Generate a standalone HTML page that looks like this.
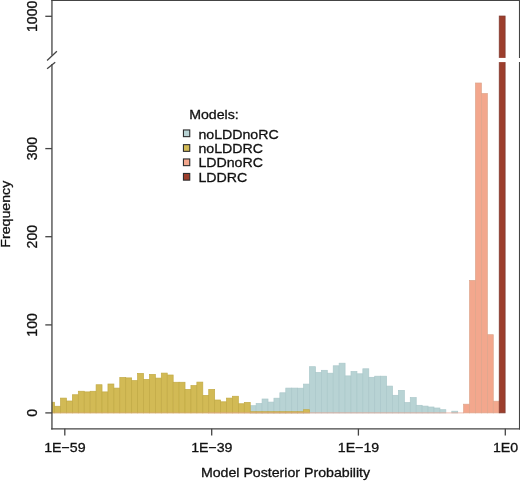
<!DOCTYPE html>
<html><head><meta charset="utf-8"><title>Model Posterior Probability</title>
<style>html,body{margin:0;padding:0;background:#fff;}svg{display:block;}</style></head>
<body>
<svg width="520" height="481" viewBox="0 0 520 481">
<rect width="520" height="481" fill="#fff"/>
<defs><clipPath id="c"><rect x="51.8" y="0" width="468" height="428.8"/></clipPath></defs>
<g clip-path="url(#c)" stroke-width="0.7">
<g fill="#b8d3d4" stroke="#abc8ca">
<rect x="250.22" y="405.70" width="5.928" height="7.20"/>
<rect x="256.15" y="403.50" width="5.928" height="9.40"/>
<rect x="262.08" y="399.00" width="5.928" height="13.90"/>
<rect x="268.01" y="402.10" width="5.928" height="10.80"/>
<rect x="273.94" y="398.20" width="5.928" height="14.70"/>
<rect x="279.86" y="392.80" width="5.928" height="20.10"/>
<rect x="285.79" y="388.10" width="5.928" height="24.80"/>
<rect x="291.72" y="388.10" width="5.928" height="24.80"/>
<rect x="297.65" y="388.20" width="5.928" height="24.70"/>
<rect x="303.58" y="384.10" width="5.928" height="28.80"/>
<rect x="309.50" y="366.70" width="5.928" height="46.20"/>
<rect x="315.43" y="372.50" width="5.928" height="40.40"/>
<rect x="321.36" y="370.30" width="5.928" height="42.60"/>
<rect x="327.29" y="373.20" width="5.928" height="39.70"/>
<rect x="333.22" y="365.80" width="5.928" height="47.10"/>
<rect x="339.14" y="363.20" width="5.928" height="49.70"/>
<rect x="345.07" y="375.90" width="5.928" height="37.00"/>
<rect x="351.00" y="371.50" width="5.928" height="41.40"/>
<rect x="356.93" y="373.80" width="5.928" height="39.10"/>
<rect x="362.86" y="368.80" width="5.928" height="44.10"/>
<rect x="368.78" y="377.30" width="5.928" height="35.60"/>
<rect x="374.71" y="376.20" width="5.928" height="36.70"/>
<rect x="380.64" y="376.20" width="5.928" height="36.70"/>
<rect x="386.57" y="386.10" width="5.928" height="26.80"/>
<rect x="392.50" y="395.30" width="5.928" height="17.60"/>
<rect x="398.42" y="390.40" width="5.928" height="22.50"/>
<rect x="404.35" y="402.60" width="5.928" height="10.30"/>
<rect x="410.28" y="397.60" width="5.928" height="15.30"/>
<rect x="416.21" y="405.30" width="5.928" height="7.60"/>
<rect x="422.14" y="406.10" width="5.928" height="6.80"/>
<rect x="428.06" y="407.00" width="5.928" height="5.90"/>
<rect x="433.99" y="408.00" width="5.928" height="4.90"/>
<rect x="439.92" y="409.70" width="5.928" height="3.20"/>
<rect x="451.78" y="411.20" width="5.928" height="1.70"/>
</g>
<g fill="#d2ba55" stroke="#c2aa45">
<rect x="48.67" y="402.25" width="5.928" height="10.65"/>
<rect x="54.60" y="406.25" width="5.928" height="6.65"/>
<rect x="60.53" y="398.10" width="5.928" height="14.80"/>
<rect x="66.46" y="401.00" width="5.928" height="11.90"/>
<rect x="72.38" y="394.75" width="5.928" height="18.15"/>
<rect x="78.31" y="391.25" width="5.928" height="21.65"/>
<rect x="84.24" y="391.90" width="5.928" height="21.00"/>
<rect x="90.17" y="391.25" width="5.928" height="21.65"/>
<rect x="96.10" y="384.75" width="5.928" height="28.15"/>
<rect x="102.02" y="391.90" width="5.928" height="21.00"/>
<rect x="107.95" y="384.00" width="5.928" height="28.90"/>
<rect x="113.88" y="388.10" width="5.928" height="24.80"/>
<rect x="119.81" y="377.50" width="5.928" height="35.40"/>
<rect x="125.74" y="377.90" width="5.928" height="35.00"/>
<rect x="131.66" y="380.60" width="5.928" height="32.30"/>
<rect x="137.59" y="373.40" width="5.928" height="39.50"/>
<rect x="143.52" y="379.40" width="5.928" height="33.50"/>
<rect x="149.45" y="374.40" width="5.928" height="38.50"/>
<rect x="155.38" y="378.10" width="5.928" height="34.80"/>
<rect x="161.30" y="373.10" width="5.928" height="39.80"/>
<rect x="167.23" y="375.00" width="5.928" height="37.90"/>
<rect x="173.16" y="382.25" width="5.928" height="30.65"/>
<rect x="179.09" y="382.25" width="5.928" height="30.65"/>
<rect x="185.02" y="389.40" width="5.928" height="23.50"/>
<rect x="190.94" y="385.60" width="5.928" height="27.30"/>
<rect x="196.87" y="382.10" width="5.928" height="30.80"/>
<rect x="202.80" y="395.40" width="5.928" height="17.50"/>
<rect x="208.73" y="389.40" width="5.928" height="23.50"/>
<rect x="214.66" y="400.00" width="5.928" height="12.90"/>
<rect x="220.58" y="401.80" width="5.928" height="11.10"/>
<rect x="226.51" y="398.10" width="5.928" height="14.80"/>
<rect x="232.44" y="396.25" width="5.928" height="16.65"/>
<rect x="238.37" y="403.75" width="5.928" height="9.15"/>
<rect x="244.30" y="402.40" width="5.928" height="10.50"/>
<rect x="250.22" y="411.70" width="5.928" height="1.20"/>
<rect x="256.15" y="411.70" width="5.928" height="1.20"/>
<rect x="262.08" y="411.70" width="5.928" height="1.20"/>
<rect x="268.01" y="411.70" width="5.928" height="1.20"/>
<rect x="273.94" y="411.70" width="5.928" height="1.20"/>
<rect x="279.86" y="411.70" width="5.928" height="1.20"/>
<rect x="285.79" y="411.70" width="5.928" height="1.20"/>
<rect x="291.72" y="411.70" width="5.928" height="1.20"/>
<rect x="297.65" y="411.70" width="5.928" height="1.20"/>
<rect x="303.58" y="409.70" width="5.928" height="3.20"/>
</g>
<g fill="#f3a78d" stroke="#dda58c">
<rect x="463.63" y="404.20" width="5.928" height="8.70"/>
<rect x="469.56" y="280.40" width="5.928" height="132.50"/>
<rect x="475.49" y="83.00" width="5.928" height="329.90"/>
<rect x="481.42" y="93.50" width="5.928" height="319.40"/>
<rect x="487.34" y="334.70" width="5.928" height="78.20"/>
<rect x="493.27" y="401.20" width="5.928" height="11.70"/>
</g>
<g fill="#9c3e2c" stroke="#7d3a30">
<rect x="499.20" y="16.00" width="5.928" height="396.90"/>
</g>
<line x1="52" x2="208" y1="412.9" y2="412.9" stroke="#e9a592" stroke-width="0.9" stroke-opacity="0.45"/>
<line x1="208" x2="463.63" y1="412.9" y2="412.9" stroke="#e9a592" stroke-width="0.9" stroke-opacity="0.8"/>
</g>
<rect x="40" y="57.9" width="480" height="4.2" fill="#fff"/>
<g stroke="#444" stroke-width="1.3" fill="none" stroke-linecap="butt">
<line x1="51.3" x2="520" y1="0.45" y2="0.45"/>
<line x1="51.95" x2="51.95" y1="0" y2="55.4"/>
<line x1="51.95" x2="51.95" y1="64" y2="429.4"/>
<line x1="51.2" x2="520" y1="428.8" y2="428.8"/>
<line x1="519.6" x2="519.6" y1="0" y2="57.9"/>
<line x1="519.6" x2="519.6" y1="62.1" y2="429.4"/>
<line x1="47.1" y1="60.4" x2="56.9" y2="51.3"/>
<line x1="47.1" y1="68.8" x2="55.2" y2="62.2"/>
<line x1="45.3" x2="51.95" y1="412.9" y2="412.9"/>
<line x1="45.3" x2="51.95" y1="324.9" y2="324.9"/>
<line x1="45.3" x2="51.95" y1="236.7" y2="236.7"/>
<line x1="45.3" x2="51.95" y1="148.6" y2="148.6"/>
<line x1="45.3" x2="51.95" y1="16.3" y2="16.3"/>
<line x1="64.8" x2="64.8" y1="428.8" y2="435.6"/>
<line x1="211.7" x2="211.7" y1="428.8" y2="435.6"/>
<line x1="358.4" x2="358.4" y1="428.8" y2="435.6"/>
<line x1="505.3" x2="505.3" y1="428.8" y2="435.6"/>
</g>
<g font-family="Liberation Sans, Arial, Helvetica, sans-serif" font-size="13.5" fill="#111" stroke="#111" stroke-width="0.3">
<text transform="translate(64.9,452.3) scale(1.05,1)" text-anchor="middle">1E−59</text>
<text transform="translate(211.8,452.3) scale(1.05,1)" text-anchor="middle">1E−39</text>
<text transform="translate(358.5,452.3) scale(1.05,1)" text-anchor="middle">1E−19</text>
<text transform="translate(505.5,452.3) scale(1.05,1)" text-anchor="middle">1E0</text>
<text transform="translate(285.5,477.1) scale(1.05,1)" text-anchor="middle">Model Posterior Probability</text>
<text transform="translate(36.5,412.9) rotate(-90) scale(0.965,1)" font-size="14.6" text-anchor="middle">0</text>
<text transform="translate(36.5,324.9) rotate(-90) scale(0.965,1)" font-size="14.6" text-anchor="middle">100</text>
<text transform="translate(36.5,236.7) rotate(-90) scale(0.965,1)" font-size="14.6" text-anchor="middle">200</text>
<text transform="translate(36.5,148.6) rotate(-90) scale(0.965,1)" font-size="14.6" text-anchor="middle">300</text>
<text transform="translate(36.5,16.3) rotate(-90) scale(0.965,1)" font-size="14.6" text-anchor="middle">1000</text>
<text transform="translate(10.2,214.2) rotate(-90) scale(1.05,1)" text-anchor="middle">Frequency</text>
<text transform="translate(189.2,118.8) scale(1.05,1)">Models:</text>
<text transform="translate(198.4,138.60) scale(1.05,1)">noLDDnoRC</text>
<text transform="translate(198.4,152.90) scale(1.05,1)">noLDDRC</text>
<text transform="translate(198.4,167.20) scale(1.05,1)">LDDnoRC</text>
<text transform="translate(198.4,181.70) scale(1.05,1)">LDDRC</text>
</g>
<rect x="183.45" y="129.95" width="6.3" height="6.7" fill="#b8d3d4" stroke="#2e2e2e" stroke-width="1.1"/>
<rect x="183.45" y="144.65" width="6.3" height="6.7" fill="#d2ba55" stroke="#2e2e2e" stroke-width="1.1"/>
<rect x="183.45" y="158.95" width="6.3" height="6.7" fill="#f3a78d" stroke="#2e2e2e" stroke-width="1.1"/>
<rect x="183.45" y="173.45" width="6.3" height="6.7" fill="#9c3e2c" stroke="#2e2e2e" stroke-width="1.1"/>
</svg>
</body></html>
